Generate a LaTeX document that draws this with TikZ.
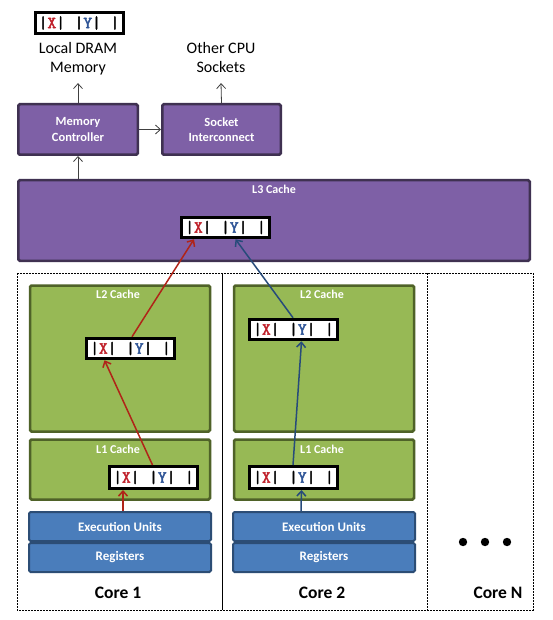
\documentclass[tikz,border=0pt]{standalone}
\usepackage{fontspec}
\setmainfont{Carlito}
\newfontfamily\datafont[FakeBold=2.5,LetterSpace=5]{Latin Modern Mono}
\usetikzlibrary{arrows.meta}
\definecolor{purplefill}{HTML}{7E60A6}
\definecolor{purpleline}{HTML}{3F3151}
\definecolor{greenfill}{HTML}{97B955}
\definecolor{greenline}{HTML}{4F6228}
\definecolor{bluefill}{HTML}{4A7DBB}
\definecolor{blueline}{HTML}{2C4D75}
\definecolor{xred}{HTML}{C0202A}
\definecolor{yblue}{HTML}{2F5597}
\definecolor{redarrow}{HTML}{B02418}
\definecolor{bluearrow}{HTML}{274B7A}
\definecolor{grayarrow}{HTML}{404040}
\newcommand{\dataline}{{\datafont\fontsize{17}{17}\selectfont|\textcolor{xred}{X}| |\textcolor{yblue}{Y}| |}}
\tikzset{
  purplebox/.style={draw=purpleline, line width=2.5pt, fill=purplefill, rounded corners=1.5pt,
    text=white, font=\bfseries\fontsize{12.5}{15.5}\selectfont, align=center, inner sep=0pt},
  greenbox/.style={draw=greenline, line width=2.5pt, fill=greenfill, rounded corners=1.5pt,
    inner sep=0pt, minimum width=180pt},
  bluebox/.style={draw=blueline, line width=2pt, fill=bluefill, rounded corners=1.5pt,
    text=white, font=\bfseries\fontsize{13}{15}\selectfont, inner sep=0pt,
    minimum width=182pt, minimum height=29pt},
  databox/.style={draw=black, line width=3pt, fill=white, minimum width=88pt,
    minimum height=20.5pt, inner sep=0pt},
  cachelabel/.style={text=white, font=\bfseries\fontsize{12}{14}\selectfont, inner sep=0pt},
  toplabel/.style={font=\fontsize{16}{19}\selectfont, align=center, inner sep=0pt},
  corelabel/.style={font=\bfseries\fontsize{17.5}{20}\selectfont, inner sep=0pt},
  graylink/.style={draw=grayarrow, line width=0.8pt, -{Straight Barb[length=5pt,width=9pt]}},
  redlink/.style={draw=redarrow, line width=1.5pt, -{Straight Barb[length=5pt,width=9pt]}},
  bluelink/.style={draw=bluearrow, line width=1.5pt, -{Straight Barb[length=5pt,width=9pt]}},
  coreframe/.style={draw=black, line width=0.6pt, dash pattern=on 2pt off 1pt},
}
\begin{document}
\begin{tikzpicture}[x=1pt,y=-1pt]
\useasboundingbox (0,0) rectangle (553,620);
\fill[white] (0,0) rectangle (553,620);

% top
\node[databox] (dram) at (79,23) {\dataline};
\node[toplabel] (dramlbl) at (78,60) {Local DRAM\\Memory\strut};
\node[toplabel] (sockets) at (221,60) {Other CPU\\Sockets\strut};
\node[purplebox, minimum width=119.5pt, minimum height=50.5pt] (mc) at (78,129.5) {Memory\\Controller};
\node[purplebox, minimum width=118.5pt, minimum height=50.5pt] (si) at (221.5,129.5) {Socket\\Interconnect};

% L3
\node[purplebox, minimum width=511.5pt, minimum height=80.5pt] (l3) at (274,220.5) {};
\node[cachelabel, anchor=north] (l3lbl) at (274,185) {L3 Cache};
\node[databox] (l3d) at (225.5,227.5) {\dataline};

\draw[graylink] (mc.north) -- ([yshift=-5pt]dramlbl.south);
\draw[graylink] (si.north) -- ([yshift=-5pt]sockets.south);
\draw[graylink] (mc.east) -- (si.west);
\draw[graylink] (l3.north -| mc.south) -- (mc.south);

% core frame
\draw[coreframe] (17,273) rectangle (533,610);
\draw[black, line width=0.6pt] (222,273) -- (222,610);
\draw[coreframe] (427,273) -- (427,610);

% core 1
\node[greenbox, minimum height=146pt] (l2c1) at (120,358.5) {};
\node[cachelabel, anchor=north] (l2c1lbl) at (118,290) {L2 Cache};
\node[databox] (l2a) at (130.5,348.5) {\dataline};
\node[greenbox, minimum height=60pt] (l1c1) at (120,469.5) {};
\node[cachelabel, anchor=north] (l1c1lbl) at (118,445) {L1 Cache};
\node[databox, minimum height=22pt] (l1a) at (153.5,477.5) {\dataline};
\node[bluebox] (exec1) at (120,526.5) {Execution Units};
\node[bluebox] (reg1) at (120,557.5) {Registers};
\node[corelabel] (core1) at (118,593) {Core 1};

% core 2
\node[greenbox, minimum height=146pt] (l2c2) at (324,358.5) {};
\node[cachelabel, anchor=north] (l2c2lbl) at (322,290) {L2 Cache};
\node[databox] (l2b) at (293.5,329.5) {\dataline};
\node[greenbox, minimum height=60pt] (l1c2) at (324,469.5) {};
\node[cachelabel, anchor=north] (l1c2lbl) at (322,445) {L1 Cache};
\node[databox, minimum height=22pt] (l1b) at (293.5,477.5) {\dataline};
\node[bluebox] (exec2) at (324,526.5) {Execution Units};
\node[bluebox] (reg2) at (324,557.5) {Registers};
\node[corelabel] (core2) at (322,593) {Core 2};

% core N
\fill[black] (463,542) circle (4.2pt) (485,542) circle (4.2pt) (507,542) circle (4.2pt);
\node[corelabel] (coren) at (498,593) {Core N};

% red path (X)
\draw[redlink] ([xshift=3pt]exec1.north) -- ([xshift=-30.5pt]l1a.south);
\draw[redlink] ([xshift=-1pt]l1a.north) -- ([xshift=-26pt]l2a.south);
\draw[redlink] ([xshift=1.5pt]l2a.north) -- ([xshift=-31.5pt]l3d.south);

% blue path (Y)
\draw[bluelink] ([xshift=-23pt]exec2.north) -- ([xshift=8pt]l1b.south);
\draw[bluelink] ([xshift=-0.5pt]l1b.north) -- ([xshift=8pt]l2b.south);
\draw[bluelink] ([xshift=-0.5pt]l2b.north) -- ([xshift=10pt]l3d.south);
\end{tikzpicture}
\end{document}
